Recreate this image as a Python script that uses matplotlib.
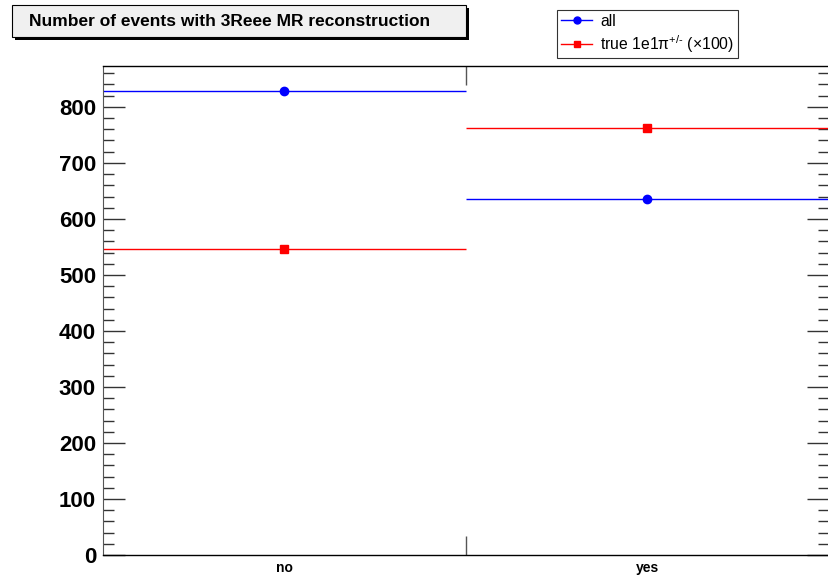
import numpy as np
import matplotlib.pyplot as plt
from matplotlib.patches import Rectangle
from matplotlib.lines import Line2D
from matplotlib.ticker import MultipleLocator

plt.rcParams['font.family'] = ['Liberation Sans', 'DejaVu Sans']
plt.rcParams['mathtext.fontset'] = 'custom'
plt.rcParams['mathtext.rm'] = 'Liberation Sans'

# bin contents per category
categories = ['no', 'yes']
all_counts = [829, 635]
true_counts_x100 = [547, 763]

W, H = 829, 577
fig = plt.figure(figsize=(W / 100, H / 100), dpi=100)

# frame placement in pixels (left, top, right, bottom)
fl, ft, fr, fb = 103, 66, 829, 555
ax = fig.add_axes([fl / W, 1 - fb / H, (fr - fl) / W, (fb - ft) / H])

edges = np.arange(len(categories) + 1)
centers = edges[:-1] + 0.5

ax.hlines(all_counts, edges[:-1], edges[1:], colors='blue', lw=1)
ax.plot(centers, all_counts, 'o', color='blue', ms=6, zorder=3)
ax.hlines(true_counts_x100, edges[:-1], edges[1:], colors='red', lw=1)
ax.plot(centers, true_counts_x100, 's', color='red', ms=5.5, zorder=3)

ax.set_xlim(edges[0], edges[-1])
ax.set_ylim(0, 873)

# y axis: major every 100, minor every 20, ticks on both sides
ax.yaxis.set_major_locator(MultipleLocator(100))
ax.yaxis.set_minor_locator(MultipleLocator(20))
ax.tick_params(axis='y', which='major', direction='in', length=16, width=1,
               left=True, right=True, labelsize=16, pad=5, color='#333333')
ax.tick_params(axis='y', which='minor', direction='in', length=8, width=1,
               left=True, right=True, color='#333333')
for lab in ax.get_yticklabels():
    lab.set_fontweight('bold')

# x axis: category labels at bin centres, tick marks on bin edges
ax.set_xticks(edges[1:-1])
ax.set_xticklabels([])
ax.set_xticks(centers, minor=True)
ax.set_xticklabels(categories, minor=True, fontsize=10, fontweight='bold')
ax.tick_params(axis='x', which='major', direction='in', length=14, width=1,
               top=True, bottom=True, color='#555555')
ax.tick_params(axis='x', which='minor', length=0, pad=4)

ax.spines['left'].set_color('#555555')
ax.spines['right'].set_visible(False)
for s in ['top', 'bottom']:
    ax.spines[s].set_linewidth(1)

# title box with drop shadow
tx0, ty0, tx1, ty1 = 12, 5, 466, 37
sh = 3
fig.patches.append(Rectangle(((tx0 + sh) / W, 1 - (ty1 + sh) / H),
                             (tx1 - tx0) / W, (ty1 - ty0) / H,
                             transform=fig.transFigure, facecolor='black',
                             edgecolor='none', zorder=1))
fig.patches.append(Rectangle((tx0 / W, 1 - ty1 / H),
                             (tx1 - tx0) / W, (ty1 - ty0) / H,
                             transform=fig.transFigure, facecolor='#f0f0f0',
                             edgecolor='black', lw=0.8, zorder=2))
fig.text(29 / W, 1 - 21 / H, 'Number of events with 3Reee MR reconstruction',
         fontsize=12.5, fontweight='bold', va='center', ha='left', zorder=3)

# legend
handles = [
    Line2D([], [], color='blue', marker='o', ms=5, lw=1),
    Line2D([], [], color='red', marker='s', ms=4.5, lw=1),
]
labels = ['all', r'true 1e1π$^{\mathrm{+/}\text{-}}$ (×100)']
leg = fig.legend(handles, labels, loc='upper left',
                 bbox_to_anchor=(557 / W, 1 - 10 / H), fontsize=11.3,
                 frameon=True, fancybox=False, edgecolor='black',
                 handlelength=2.0, handletextpad=0.5, borderpad=0.25,
                 labelspacing=0.25, borderaxespad=0)
leg.get_frame().set_linewidth(0.8)

fig.savefig('out.png', dpi=100)
